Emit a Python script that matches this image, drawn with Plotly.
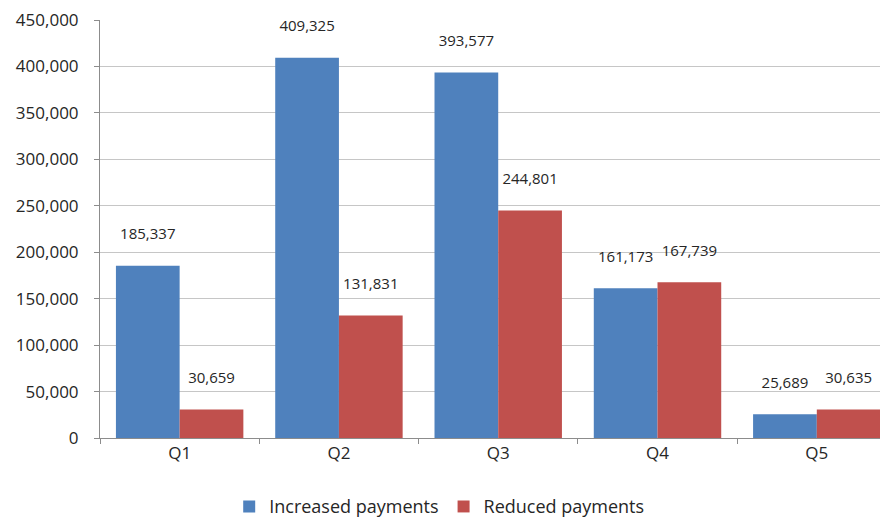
import plotly.graph_objects as go

BLUE = "#4f81bd"
RED = "#c0504d"
GRID = "#c6c6c6"
AXIS = "#8c8c8c"
TEXT = "#262626"

quintiles = ["Q1", "Q2", "Q3", "Q4", "Q5"]
increased = [185337, 409325, 393577, 161173, 25689]
reduced = [30659, 131831, 244801, 167739, 30635]

fig = go.Figure()

for name, vals, color in [
    ("Increased payments", increased, BLUE),
    ("Reduced payments", reduced, RED),
]:
    fig.add_trace(go.Bar(
        x=quintiles, y=vals, name=name,
        marker=dict(color=color, line=dict(width=0)),
        texttemplate="%{y:,}<br> ", textposition="outside",
        textfont=dict(size=15, color=TEXT),
        cliponaxis=False,
    ))

# page body has an 8px margin, so the figure is a bit smaller than the window
fig.update_layout(
    width=880, height=511,
    margin=dict(l=92, r=0, t=12, b=81),
    plot_bgcolor="white", paper_bgcolor="white",
    font=dict(family="Open Sans", color=TEXT, size=15),
    barmode="group", bargap=0.2, bargroupgap=0,
    showlegend=True,
    legend=dict(
        orientation="h", xref="container", x=0.49, xanchor="center",
        yref="container", y=0.024, yanchor="middle",
        font=dict(size=18), itemwidth=30,
    ),
    xaxis=dict(
        range=[-0.5, 4.447], showgrid=False,
        showline=True, linecolor=AXIS, linewidth=1,
        ticks="outside", tickson="boundaries", ticklen=5, tickcolor=AXIS,
        tickfont=dict(size=17),
    ),
    yaxis=dict(
        range=[0, 450000], dtick=50000, tickformat=",",
        showgrid=True, gridcolor=GRID, gridwidth=1,
        showline=True, linecolor=AXIS, linewidth=1,
        ticks="outside", ticklen=5, tickcolor=AXIS,
        ticklabelstandoff=12, zeroline=False, ticklabeloverflow="allow",
        tickfont=dict(size=17),
    ),
)

fig.write_html("out.html")
